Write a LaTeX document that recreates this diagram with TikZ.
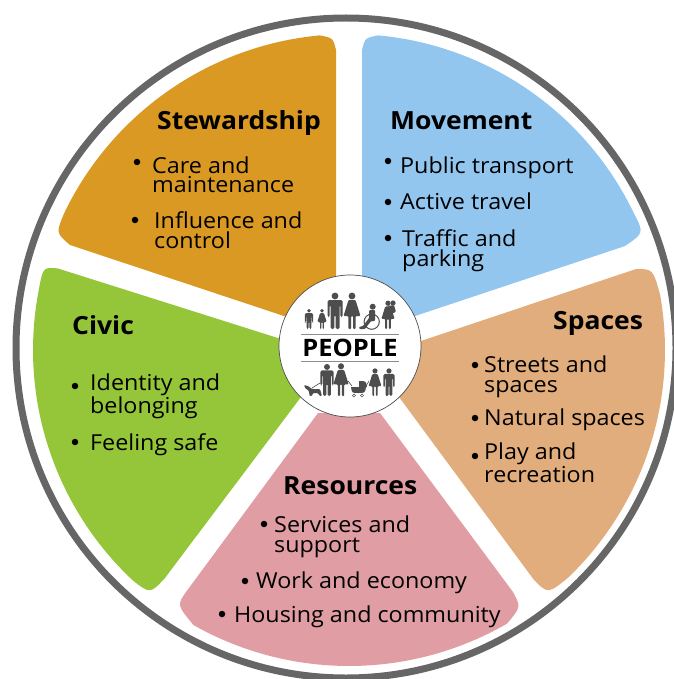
\documentclass[tikz,border=0pt]{standalone}
\usepackage{fontspec}
\setmainfont[FakeStretch=1.06]{Open Sans}
\definecolor{stewcol}{HTML}{DA9922}
\definecolor{movecol}{HTML}{93C6EF}
\definecolor{spacecol}{HTML}{E2AD7C}
\definecolor{rescol}{HTML}{E09DA3}
\definecolor{civcol}{HTML}{95C639}
\definecolor{ringcol}{HTML}{666666}
\definecolor{iconcol}{HTML}{4D4D4D}
\newcommand{\petalarc}[2]{-- plot[domain=#1:#2,samples=50] ({349+316*cos(\x)},{350+316*sin(\x)})}
\newcommand{\figman}[3]{\begin{scope}[shift={(#1,#2)},scale=#3]
  \fill[iconcol] (0,-33) circle (3.4);
  \fill[iconcol,rounded corners=1.5] (-7.5,-12) -- (-7.5,-29) -- (7.5,-29) -- (7.5,-12) -- (5.4,-12) -- (5.4,-24) -- (4.5,-24) -- (4.5,0) -- (0.6,0) -- (0.6,-14) -- (-0.6,-14) -- (-0.6,0) -- (-4.5,0) -- (-4.5,-24) -- (-5.4,-24) -- (-5.4,-12) -- cycle;
\end{scope}}
\newcommand{\figwoman}[3]{\begin{scope}[shift={(#1,#2)},scale=#3]
  \fill[iconcol] (0,-33) circle (3.4);
  \fill[iconcol,rounded corners=1] (-3.5,-29) -- (3.5,-29) -- (8.5,-13) -- (3.6,-13) -- (3.6,0) -- (1,0) -- (1,-13) -- (-1,-13) -- (-1,0) -- (-3.6,0) -- (-3.6,-13) -- (-8.5,-13) -- cycle;
\end{scope}}
\tikzset{
  petal/.style={line width=0pt},
  heading/.style={anchor=base west,inner sep=0pt,font=\fontsize{25}{26}\selectfont\bfseries,text=black},
  item/.style={anchor=base west,inner sep=0pt,align=left,font=\fontsize{22}{20}\selectfont,text=black},
  dotmark/.style={circle,fill=black,inner sep=0pt,minimum size=6.5pt},
  rulegrey/.style={draw=gray!90,line width=0.8pt}
}
\begin{document}
\begin{tikzpicture}[x=1pt,y=-1pt]
\useasboundingbox (0,0) rectangle (673,679);
% outer ring
\draw[ringcol,line width=7pt] (346,348) circle (330);
% petals
\fill[stewcol,petal] (336,50) .. controls (333,38) .. (319.8,35.4) \petalarc{264.7}{205.6} .. controls (56,233) .. (70,245) -- (290,318) -- (336,318) -- cycle;
\fill[movecol,petal] (362,50) .. controls (365,38) .. (378.2,35.4) \petalarc{-84.7}{-25.6} .. controls (644,233) .. (625,246) -- (415,316) -- (362,316) -- cycle;
\fill[spacecol,petal] (400,348) -- (636,269) .. controls (653,269) .. (660.2,295.1) \petalarc{-10}{46} .. controls (548,594) .. (534,580) -- (385,378) -- cycle;
\fill[rescol,petal] (380,413) -- (513,592) .. controls (521,607) .. (507,623.7) \petalarc{60}{119.5} .. controls (177,605) .. (186,592) -- (318,413) -- cycle;
\fill[civcol,petal] (300,345) -- (58,268.5) .. controls (43,267) .. (38.6,290.8) \petalarc{190.8}{133.3} .. controls (150,594) .. (165,578) -- (310,385) -- cycle;
% centre
\node[circle,draw=iconcol,fill=white,line width=0.7pt,minimum size=142pt,inner sep=0pt] (hub) at (350,346) {};
\draw[rulegrey] (301,334.7) -- (399,334.7);
\draw[rulegrey] (301,361.7) -- (399,361.7);
\node[anchor=center,inner sep=0pt,font=\fontsize{24}{24}\selectfont\bfseries,text=black] (people) at (350,348) {PEOPLE};
% top row of figures
\figman{309}{329}{0.55}
\figwoman{322}{329}{0.55}
\figman{335}{329}{1}
\figwoman{352}{329}{1}
\figwoman{388}{329}{0.78}
\fill[iconcol] (393,303) circle (2.6);
\fill[iconcol,rounded corners=1] (388,306) -- (394,305) -- (396,312) -- (390,314) -- cycle;
% wheelchair
\fill[iconcol] (372.7,306.7) circle (3);
\draw[iconcol,line width=1pt] (371.7,321.7) circle (7.6);
\fill[iconcol,rounded corners=1] (369,310) -- (375,310) -- (375,321) -- (371,321) -- (365,329) -- (359,329) -- (359,327) -- (363,326) -- (369,318) -- cycle;
% bottom row of figures
\figman{327}{396}{0.88}
\figwoman{341}{396}{0.9}
\figwoman{375}{396}{0.76}
\figman{389}{396}{0.76}
\draw[iconcol,line width=0.6pt] (386,383) -- (386,396);
\draw[iconcol,line width=0.6pt] (320,383) -- (312,388);
\draw[iconcol,line width=0.6pt] (348,381) -- (352,386);
\draw[iconcol,line width=0.6pt] (366,386) -- (369,381);
% dog
\fill[iconcol,rounded corners=1] (304,385) -- (308,386) -- (312,389) -- (320,389) -- (322,396) -- (319.5,396) -- (318,393) -- (313,393) -- (312,396) -- (309.5,396) -- (309,391) -- (305,388) -- cycle;
% pram
\fill[iconcol] (351,387) -- (366,387) .. controls (365,393) .. (358,393) .. controls (352,393) .. (351,387) -- cycle;
\fill[iconcol] (359,387) -- (359,381) .. controls (366,381) .. (367,387) -- cycle;
\draw[iconcol,line width=0.5pt] (354,395.5) circle (1.6) (362,395.5) circle (1.6);
% headings
\node[heading] (stewardship) at (157,130) {Stewardship};
\node[heading] (movement) at (390,130) {Movement};
\node[heading] (spaces) at (553,329) {Spaces};
\node[heading] (resources) at (283,494) {Resources};
\node[heading] (civic) at (72,334) {Civic};
% items
\node[item] (care) at (152,193) {Care and\\maintenance};
\node[item] (influence) at (154,248) {Influence and\\control};
\node[item] (transport) at (400,173) {Public transport};
\node[item] (active) at (400,209) {Active travel};
\node[item] (traffic) at (402,266) {Traffic and\\parking};
\node[item] (streets) at (484,392) {Streets and\\spaces};
\node[item] (natural) at (484,425) {Natural spaces};
\node[item] (play) at (484,482) {Play and\\recreation};
\node[item] (services) at (274,552) {Services and\\support};
\node[item] (work) at (256,588) {Work and economy};
\node[item] (housing) at (234,622) {Housing and community};
\node[item] (identity) at (90,413) {Identity and\\belonging};
\node[item] (feeling) at (90,450) {Feeling safe};
% bullets
\node[dotmark] (b1) at (137,162) {};
\node[dotmark] (b2) at (135,220) {};
\node[dotmark] (b3) at (388,161) {};
\node[dotmark] (b4) at (388,202) {};
\node[dotmark] (b5) at (388,238) {};
\node[dotmark] (b6) at (475,365) {};
\node[dotmark] (b7) at (475,418) {};
\node[dotmark] (b8) at (475,456) {};
\node[dotmark] (b9) at (264,524) {};
\node[dotmark] (b10) at (245,581) {};
\node[dotmark] (b11) at (222,614) {};
\node[dotmark] (b12) at (75,386) {};
\node[dotmark] (b13) at (75,442) {};
\end{tikzpicture}
\end{document}
